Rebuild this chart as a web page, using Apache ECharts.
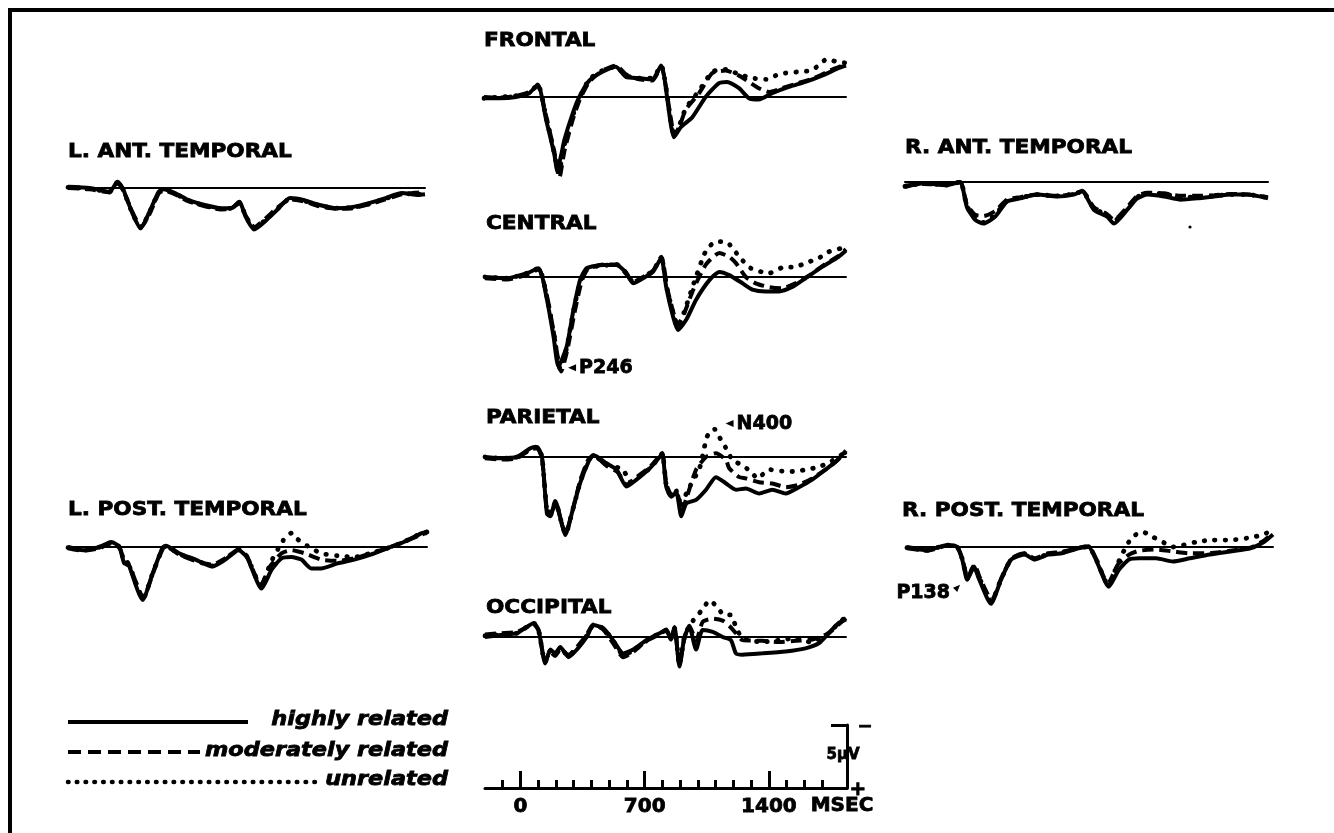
<!DOCTYPE html>
<html><head><meta charset="utf-8">
<script src="https://cdn.jsdelivr.net/npm/echarts@6/dist/echarts.min.js"></script>
<style>html,body{margin:0;padding:0;background:#fff}#c{width:1334px;height:833px}</style>
</head><body><div id="c"></div><script>
// ---- data: [time in ms, amplitude in µV] (negative plotted up) ----
const seriesNames = ['highly related', 'moderately related', 'unrelated'];
const timeTicksMinor = [-100,100,200,300,400,500,600,800,900,1000,1100,1200,1300,1500,1600,1700];
const timeTicksMajor = [0, 700, 1400];

const frontalHigh = [[-200,0.1],[-110,0.1],[-20,0],[55,-0.3],[103,-1.0],[150,1.8],[197,4.6],[212,5.8],[235,4.6],[253,3.4],[300,1.3],[337,0],[393,-1.3],[468,-2.0],[543,-2.4],[600,-1.6],[674,-1.5],[748,-1.4],[798,-2.5],[871,3.2],[909,2.4],[974,1.6],[1049,0],[1124,-1.1],[1170,-1.2],[1237,-0.7],[1293,0.1],[1349,0.2],[1424,-0.3],[1518,-0.8],[1611,-1.2],[1705,-1.7],[1800,-2.3],[1840,-2.5]];
const frontalMod = [[-200,0.0],[-110,0.05],[-20,-0.1],[55,-0.4],[103,-0.9],[150,1.5],[197,4.4],[225,6.4],[253,4.3],[300,1.8],[340,0.2],[393,-1.2],[468,-2.1],[543,-2.5],[600,-1.8],[674,-1.4],[748,-1.3],[798,-2.4],[875,3.0],[905,2.2],[937,1.0],[1012,-0.3],[1087,-1.9],[1162,-2.1],[1237,-1.7],[1293,-1.2],[1349,-0.7],[1405,-0.4],[1480,-0.7],[1570,-1.1],[1660,-1.5],[1750,-2.1],[1840,-2.6]];
const frontalUnrel = [[-200,0.1],[-110,0],[-20,-0.1],[55,-0.3],[103,-1.0],[150,1.6],[197,4.5],[220,6.0],[253,3.8],[300,1.5],[337,0.1],[393,-1.4],[468,-2.1],[543,-2.4],[600,-1.7],[674,-1.5],[748,-1.5],[798,-2.5],[873,3.1],[905,2.1],[937,0.9],[1012,-0.5],[1087,-2.0],[1162,-2.2],[1237,-1.8],[1311,-1.5],[1390,-1.4],[1443,-1.7],[1499,-1.9],[1574,-2.0],[1641,-2.1],[1686,-2.5],[1731,-3.0],[1787,-2.8],[1840,-2.7]];

const centralHigh = [[-200,0],[-75,0.1],[37,-0.3],[103,-0.7],[150,1.8],[187,4.7],[215,7.1],[262,5.5],[300,2.6],[337,0.25],[375,-0.7],[468,-0.95],[543,-0.95],[600,-0.3],[637,0.5],[693,0.1],[749,-0.4],[796,-1.5],[824,0.8],[862,3.1],[890,4.2],[937,3.4],[993,1.8],[1068,0.25],[1124,-0.4],[1180,-0.15],[1255,0.5],[1311,1.0],[1386,1.15],[1461,1.15],[1536,0.8],[1611,0.1],[1705,-0.8],[1798,-1.6],[1840,-2.1]];
const centralMod = [[-200,0.1],[-75,0.2],[37,-0.2],[103,-0.6],[150,1.5],[190,4.5],[230,7.5],[265,5.8],[305,2.9],[345,0.4],[380,-0.6],[468,-1.0],[543,-1.0],[600,-0.2],[637,0.4],[693,0],[749,-0.5],[796,-1.6],[830,0.9],[868,3.0],[890,3.8],[925,2.9],[980,0.9],[1049,-1.0],[1124,-1.9],[1180,-1.6],[1218,-1.1],[1274,0],[1330,0.5],[1405,0.8],[1480,0.9],[1555,0.5],[1630,-0.1],[1720,-1.0],[1800,-1.7],[1840,-2.2]];
const centralUnrel = [[-200,0],[-75,0.1],[37,-0.3],[103,-0.7],[150,1.6],[190,4.6],[225,7.3],[262,5.6],[300,2.7],[340,0.3],[380,-0.7],[468,-0.9],[543,-1.0],[600,-0.3],[637,0.4],[693,0],[749,-0.5],[796,-1.5],[828,0.9],[866,3.0],[890,3.9],[925,2.8],[980,0.5],[1049,-2.1],[1105,-2.8],[1162,-2.8],[1199,-2.3],[1237,-1.6],[1302,-0.7],[1405,-0.3],[1480,-0.75],[1555,-0.8],[1611,-1.1],[1686,-1.5],[1742,-2.0],[1817,-2.3],[1840,-2.4]];

const parietalHigh = [[-200,0],[-112,0.1],[-19,0],[56,-0.7],[94,-0.8],[122,0],[150,4.5],[169,4.7],[197,3.5],[234,5.3],[253,6.2],[290,4.5],[337,2.1],[384,0.4],[412,-0.15],[487,0.5],[543,1.0],[600,2.35],[656,1.8],[731,0.9],[787,0],[802,-0.3],[824,2.35],[852,3.15],[881,2.8],[909,4.7],[937,3.7],[993,3.4],[1049,2.6],[1105,1.6],[1162,2.1],[1218,2.6],[1274,2.5],[1349,2.9],[1424,2.6],[1499,2.9],[1574,2.4],[1649,1.8],[1724,1.0],[1780,0.4],[1840,-0.5]];
const parietalMod = [[-200,0.1],[-112,0.2],[-19,0.1],[56,-0.6],[94,-0.7],[122,0.1],[150,4.2],[172,4.4],[200,3.7],[238,5.5],[258,6.0],[295,4.2],[340,1.8],[384,0.2],[415,-0.1],[487,0.7],[550,1.2],[600,2.2],[656,1.6],[731,0.8],[787,-0.1],[802,-0.3],[826,2.2],[855,3.0],[885,2.9],[912,4.3],[940,3.2],[993,1.0],[1049,0],[1105,-0.3],[1162,0.25],[1180,0.9],[1237,1.6],[1274,1.7],[1349,2.0],[1424,2.1],[1499,2.4],[1574,2.2],[1649,1.7],[1724,1.0],[1780,0.4],[1840,-0.4]];
const parietalUnrel = [[-200,0],[-112,0.1],[-19,0],[56,-0.6],[94,-0.8],[122,0],[150,4.3],[170,4.6],[198,3.6],[236,5.4],[255,6.1],[292,4.4],[338,2.0],[384,0.3],[412,-0.1],[487,0.6],[580,1.0],[620,2.0],[656,1.7],[731,0.9],[787,0],[802,-0.3],[825,2.3],[853,3.1],[883,2.7],[910,4.0],[940,2.8],[1012,0.9],[1049,-1.35],[1068,-2.0],[1100,-2.2],[1133,-1.35],[1162,-0.7],[1199,0.25],[1246,0.6],[1302,1.15],[1340,1.7],[1405,1.0],[1499,1.15],[1555,1.15],[1611,1.0],[1686,0.8],[1761,0.3],[1840,-0.4]];

const occipitalHigh = [[-200,0],[-112,-0.15],[-19,-0.3],[75,-1.1],[103,-0.55],[140,2.1],[169,1.0],[197,1.3],[225,0.8],[272,1.6],[319,1.0],[375,0],[412,-0.95],[468,-0.7],[524,0.25],[581,1.3],[637,1.0],[712,0.25],[787,-0.3],[824,-0.55],[850,0.2],[871,-0.8],[899,2.35],[927,0],[955,-0.8],[993,1.0],[1030,-0.55],[1087,-0.4],[1143,0],[1190,0.25],[1218,1.3],[1255,1.4],[1368,1.3],[1499,1.15],[1611,0.9],[1686,0.5],[1742,-0.3],[1798,-1.1],[1840,-1.4]];
const occipitalMod = [[-200,-0.2],[-112,-0.3],[-19,-0.4],[75,-1.0],[103,-0.5],[140,1.9],[169,1.2],[197,1.5],[225,1.0],[272,1.4],[319,0.8],[375,-0.2],[412,-1.0],[468,-0.6],[524,0.5],[581,1.6],[637,1.2],[712,0.3],[787,-0.2],[824,-0.6],[850,0.1],[871,-0.7],[899,2.2],[927,0.1],[955,-0.9],[993,0.3],[1030,-1.2],[1087,-1.45],[1143,-1.3],[1180,-0.9],[1218,-0.3],[1255,0.25],[1368,0.3],[1461,0.4],[1555,0.3],[1650,0.2],[1742,-0.3],[1798,-1.0],[1840,-1.5]];
const occipitalUnrel = [[-200,-0.1],[-112,-0.2],[-19,-0.3],[75,-1.1],[103,-0.5],[140,2.0],[169,1.1],[197,1.4],[225,0.9],[272,1.5],[319,0.9],[375,-0.1],[412,-0.9],[468,-0.7],[524,0.3],[581,1.4],[637,1.1],[712,0.3],[787,-0.3],[824,-0.5],[850,0.1],[871,-0.7],[899,2.2],[927,0],[955,-0.9],[993,-1.6],[1030,-2.2],[1068,-2.9],[1105,-2.5],[1152,-1.75],[1190,-1.75],[1218,-0.8],[1255,0.1],[1368,0.4],[1461,0.25],[1555,0.1],[1640,0.4],[1742,-0.3],[1798,-1.1],[1840,-1.6]];

const lAntHigh = [[-200,-0.1],[-76,0],[37,0.3],[83,-0.5],[112,0],[168,2.0],[215,3.2],[262,2.0],[318,0.3],[346,0.1],[412,0.4],[487,0.95],[581,1.35],[675,1.6],[731,1.6],[779,1.1],[816,2.3],[863,3.3],[938,2.5],[994,1.75],[1069,0.8],[1145,0.95],[1238,1.35],[1332,1.6],[1427,1.5],[1520,1.2],[1614,0.8],[1708,0.4],[1802,0.55],[1840,0.5]];
const lAntMod = [[-200,0],[-76,0.1],[37,0.35],[83,-0.4],[112,0.1],[168,1.9],[218,3.1],[265,2.1],[320,0.4],[350,0.2],[412,0.5],[487,1.05],[581,1.45],[675,1.7],[731,1.65],[779,1.2],[816,2.2],[866,3.1],[938,2.3],[994,1.6],[1069,0.9],[1145,1.05],[1238,1.45],[1332,1.65],[1427,1.6],[1520,1.3],[1614,0.9],[1708,0.5],[1802,0.35],[1840,0.3]];
const lAntUnrel = [[-200,-0.05],[-76,0.05],[37,0.3],[83,-0.45],[112,0.05],[168,2.0],[216,3.15],[263,2.0],[319,0.35],[348,0.15],[412,0.45],[487,1.0],[581,1.4],[675,1.65],[731,1.6],[779,1.15],[816,2.25],[864,3.2],[938,2.4],[994,1.7],[1069,0.85],[1145,1.0],[1238,1.4],[1332,1.6],[1427,1.55],[1520,1.25],[1614,0.85],[1708,0.45],[1802,0.5],[1840,0.45]];

const lPostHigh = [[-200,0],[-114,0.25],[-20,0],[46,-0.4],[93,0],[121,1.3],[140,1.2],[149,1.55],[224,4.2],[281,2.1],[337,0.05],[356,-0.1],[431,0.5],[525,1.0],[619,1.55],[694,1.0],[769,0.25],[816,0.8],[900,3.3],[957,1.8],[1013,0.9],[1069,0.8],[1126,1.0],[1182,1.7],[1238,1.7],[1332,1.3],[1427,1.0],[1520,0.6],[1614,0.1],[1708,-0.4],[1811,-1.1],[1840,-1.2]];
const lPostMod = [[-200,0.1],[-114,0.3],[-20,0.1],[46,-0.3],[93,0.1],[121,1.2],[149,1.5],[228,4.0],[285,2.0],[340,0.1],[360,0],[431,0.6],[525,1.1],[619,1.4],[694,0.9],[769,0.2],[816,0.7],[895,3.0],[950,1.5],[1013,0.5],[1069,0.25],[1145,0.5],[1238,1.0],[1332,1.1],[1427,0.9],[1520,0.5],[1614,0.1],[1708,-0.4],[1811,-1.0],[1840,-1.1]];
const lPostUnrel = [[-200,0.05],[-114,0.2],[-20,0],[46,-0.35],[93,0],[121,1.25],[149,1.5],[226,4.1],[283,2.0],[338,0.1],[358,-0.05],[431,0.55],[525,1.05],[619,1.5],[694,0.95],[769,0.2],[816,0.75],[898,3.1],[950,1.3],[1000,0],[1032,-0.7],[1069,-1.1],[1097,-0.7],[1135,-0.3],[1238,0.5],[1332,0.7],[1427,0.8],[1520,0.5],[1614,0.1],[1708,-0.4],[1811,-1.1],[1840,-1.2]];

const rAntHigh = [[-200,0.4],[-97,0.1],[35,0.25],[110,0],[148,2.0],[194,3.0],[241,3.3],[307,2.75],[373,1.55],[448,1.3],[542,1.0],[655,1.15],[748,1.0],[796,0.75],[861,2.2],[936,2.75],[974,3.3],[1049,2.2],[1105,1.3],[1162,1.0],[1255,1.15],[1349,1.4],[1443,1.3],[1537,1.15],[1631,1.0],[1725,1.0],[1840,1.3]];
const rAntMod = [[-200,0.3],[-97,0.15],[35,0.2],[110,0],[148,1.8],[194,2.6],[241,2.7],[307,2.3],[373,1.4],[448,1.2],[542,1.0],[655,1.1],[748,0.95],[796,0.7],[861,2.0],[930,2.5],[974,3.0],[1049,2.0],[1105,1.1],[1162,0.85],[1255,0.9],[1349,1.1],[1443,1.1],[1537,1.05],[1631,0.95],[1725,1.0],[1840,1.2]];
const rAntUnrel = [[-200,0.35],[-97,0.1],[35,0.25],[110,0],[148,1.9],[194,2.9],[241,3.2],[307,2.6],[373,1.5],[448,1.25],[542,1.0],[655,1.1],[748,0.95],[796,0.75],[861,2.1],[936,2.6],[974,3.1],[1049,2.1],[1105,1.2],[1162,0.9],[1255,0.95],[1349,1.2],[1443,1.2],[1537,1.1],[1631,1.0],[1725,1.0],[1840,1.25]];

const rPostHigh = [[-200,0],[-89,0.25],[24,-0.15],[80,0],[108,1.0],[136,2.6],[174,1.55],[200,2.5],[268,4.5],[324,2.6],[380,1.0],[455,0.6],[512,1.0],[587,0.6],[662,0.5],[756,0.1],[812,0],[850,0.9],[925,3.15],[981,1.8],[1038,1.0],[1094,0.9],[1188,0.9],[1282,1.15],[1376,0.9],[1488,0.6],[1601,0.35],[1714,0.1],[1789,-0.4],[1840,-1.0]];
const rPostMod = [[-200,0.1],[-89,0.3],[24,-0.1],[80,0.05],[108,0.9],[138,2.4],[176,1.4],[205,2.4],[272,4.2],[328,2.4],[384,0.9],[455,0.5],[512,0.9],[587,0.5],[662,0.4],[756,0.05],[812,-0.05],[850,0.8],[920,2.9],[975,1.4],[1038,0.6],[1094,0.3],[1188,0.2],[1282,0.35],[1376,0.5],[1488,0.5],[1601,0.3],[1714,0.05],[1789,-0.5],[1840,-1.1]];
const rPostUnrel = [[-200,0.05],[-89,0.25],[24,-0.15],[80,0],[108,0.95],[137,2.5],[175,1.5],[203,2.45],[270,4.3],[326,2.5],[382,0.95],[455,0.55],[512,0.95],[587,0.55],[662,0.45],[756,0.05],[812,0],[850,0.85],[922,3.0],[975,1.3],[1020,0],[1056,-0.8],[1113,-1.2],[1169,-0.8],[1207,-0.55],[1282,0],[1413,-0.4],[1500,-0.55],[1601,-0.55],[1695,-0.7],[1789,-1.0],[1840,-1.4]];

// ---- layout (pixels) ----
const PX = 12.6;           // pixels per µV
const T0 = -200, T1 = 1840;
const FONT = 'DejaVu Sans';
const panels = [
  {title:'FRONTAL',          left:484, right:846,  base:97,  tx:484, ty:41,  data:[frontalHigh, frontalMod, frontalUnrel]},
  {title:'CENTRAL',          left:485, right:846,  base:277, tx:486, ty:224, data:[centralHigh, centralMod, centralUnrel]},
  {title:'PARIETAL',         left:485, right:846,  base:457, tx:486, ty:418, data:[parietalHigh, parietalMod, parietalUnrel]},
  {title:'OCCIPITAL',        left:485, right:846,  base:637, tx:486, ty:608, data:[occipitalHigh, occipitalMod, occipitalUnrel]},
  {title:'L. ANT. TEMPORAL', left:68,  right:425,  base:188, tx:68,  ty:152, data:[lAntHigh, lAntMod, lAntUnrel]},
  {title:'L. POST. TEMPORAL',left:68,  right:427,  base:547, tx:68,  ty:510, data:[lPostHigh, lPostMod, lPostUnrel]},
  {title:'R. ANT. TEMPORAL', left:905, right:1268, base:182, tx:905, ty:148, data:[rAntHigh, rAntMod, rAntUnrel]},
  {title:'R. POST. TEMPORAL',left:907, right:1273, base:547, tx:902, ty:511, data:[rPostHigh, rPostMod, rPostUnrel]}
];
const styles = [
  {color:'#000', width:4.0, type:'solid'},
  {color:'#000', width:4.0, type:[11,6]},
  {color:'#000', width:4.8, type:[0.5,10], cap:'round'}
];
const labelStyle = {color:'#000', fontFamily:FONT, fontWeight:'bold', fontSize:19, textBorderColor:'#000', textBorderWidth:0.8};

const grids = [], xAxes = [], yAxes = [], series = [];
panels.forEach((p, i) => {
  grids.push({left:p.left, top:p.base - 5*PX, width:p.right - p.left, height:14*PX});
  xAxes.push({type:'value', gridIndex:i, min:T0, max:T1,
    axisLine:{show:true, onZero:true, lineStyle:{color:'#000', width:2}},
    axisTick:{show:false}, axisLabel:{show:false}, splitLine:{show:false}});
  yAxes.push({type:'value', gridIndex:i, min:-5, max:9, inverse:true, show:false, splitLine:{show:false}});
  p.data.forEach((d, k) => {
    series.push({type:'line', name:seriesNames[k], xAxisIndex:i, yAxisIndex:i, data:d,
      symbol:'none', smooth:0.2, silent:true, lineStyle:styles[k], z:2+k});
  });
});

// annotations tied to data coordinates
const arrowLabel = (txt, pos) => ({show:true, position:pos, distance:3, formatter:txt, ...labelStyle});
series[4].markPoint = {silent:true, animation:false, data:[{coord:[292,7.2], symbol:'triangle', symbolRotate:90, symbolSize:[7,8], itemStyle:{color:'#000'}, label:arrowLabel('P246','right')}]};
series[8].markPoint = {silent:true, animation:false, data:[{coord:[1182,-2.65], symbol:'triangle', symbolRotate:90, symbolSize:[7,8], itemStyle:{color:'#000'}, label:arrowLabel('N400','right')}]};
series[21].markPoint = {silent:true, animation:false, data:[{coord:[82,3.2], symbol:'triangle', symbolRotate:-45, symbolSize:[6,7], itemStyle:{color:'#000'}, label:{...arrowLabel('P138','left'), offset:[0,6]}}]};

// time / voltage calibration bar
const gi = panels.length;
grids.push({left:485, top:788 - 5*PX, width:362, height:5*PX});
xAxes.push({type:'value', gridIndex:gi, min:T0, max:T1, position:'bottom',
  axisLine:{show:true, onZero:true, lineStyle:{color:'#000', width:3}},
  axisTick:{show:true, inside:true, length:8, customValues:timeTicksMinor, lineStyle:{color:'#000', width:3}},
  axisLabel:{show:false}, splitLine:{show:false}});
xAxes.push({type:'value', gridIndex:gi, min:T0, max:T1, position:'bottom',
  axisLine:{show:false},
  axisTick:{show:true, inside:true, length:17, customValues:timeTicksMajor, lineStyle:{color:'#000', width:3}},
  axisLabel:{show:true, customValues:timeTicksMajor, formatter:v => String(v), margin:9, color:'#000', fontFamily:FONT, fontWeight:'bold', fontSize:20, textBorderColor:'#000', textBorderWidth:0.8},
  splitLine:{show:false}});
yAxes.push({type:'value', gridIndex:gi, min:-5, max:0, inverse:true, position:'right',
  axisLine:{show:true, onZero:false, lineStyle:{color:'#000', width:3}},
  axisTick:{show:true, inside:true, length:16, customValues:[-5], lineStyle:{color:'#000', width:3}},
  axisLabel:{show:false}, splitLine:{show:false}});

// text & decorations
const heavy = {stroke:'#000', lineWidth:0.8};
const graphic = [];
graphic.push({type:'line', shape:{x1:8, y1:10, x2:1334, y2:10}, style:{stroke:'#000', lineWidth:4}, silent:true});
graphic.push({type:'line', shape:{x1:10, y1:8, x2:10, y2:833}, style:{stroke:'#000', lineWidth:4}, silent:true});
panels.forEach(p => {
  graphic.push({type:'text', x:p.tx, y:p.ty, scaleX:1.08, silent:true,
    style:{text:p.title, fill:'#000', ...heavy, fontFamily:FONT, fontWeight:'bold', fontSize:20, align:'left', verticalAlign:'middle'}});
});
// legend
const legendRows = [
  {y:722, ty:720, dash:null, width:4, x2:248},
  {y:752, ty:751, dash:[13,7], width:4.2, x2:200},
  {y:782, ty:780, dash:[0.5,8.3], width:4.6, x2:318, cap:'round'}
];
legendRows.forEach((r, k) => {
  const st = {stroke:'#000', lineWidth:r.width};
  if (r.dash) st.lineDash = r.dash;
  if (r.cap) st.lineCap = r.cap;
  graphic.push({type:'line', shape:{x1:68, y1:r.y, x2:r.x2, y2:r.y}, style:st, silent:true});
  graphic.push({type:'text', x:448, y:r.ty, scaleX:1.12, silent:true,
    style:{text:seriesNames[k], fill:'#000', ...heavy, fontFamily:FONT, fontWeight:'bold', fontStyle:'italic', fontSize:20, align:'right', verticalAlign:'middle'}});
});
graphic.push({type:'text', x:842, y:806, silent:true, style:{text:'MSEC', fill:'#000', ...heavy, fontFamily:FONT, fontWeight:'bold', fontSize:20, align:'center', verticalAlign:'middle'}});
graphic.push({type:'text', x:843, y:755, silent:true, style:{text:'5µV', fill:'#000', ...heavy, fontFamily:FONT, fontWeight:'bold', fontSize:15, align:'center', verticalAlign:'middle'}});
graphic.push({type:'text', x:865, y:727, silent:true, style:{text:'−', fill:'#000', ...heavy, fontFamily:FONT, fontWeight:'bold', fontSize:18, align:'center', verticalAlign:'middle'}});
graphic.push({type:'text', x:858, y:790, silent:true, style:{text:'+', fill:'#000', ...heavy, fontFamily:FONT, fontWeight:'bold', fontSize:20, align:'center', verticalAlign:'middle'}});
graphic.push({type:'circle', shape:{cx:1190, cy:227, r:1.6}, style:{fill:'#000'}, silent:true});

const chart = echarts.init(document.getElementById('c'), null, {renderer:'canvas'});
chart.setOption({
  animation:false,
  backgroundColor:'#fff',
  grid:grids, xAxis:xAxes, yAxis:yAxes, series:series, graphic:graphic
});
</script></body></html>
